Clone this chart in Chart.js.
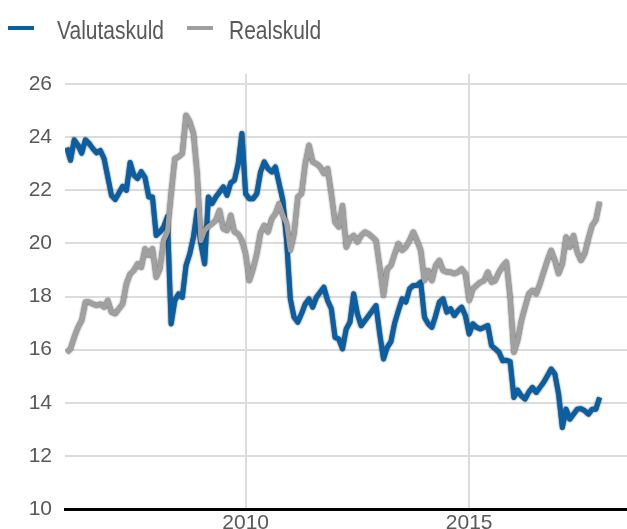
<!DOCTYPE html>
<html>
<head>
<meta charset="utf-8">
<script src="https://cdn.jsdelivr.net/npm/chart.js@4/dist/chart.umd.min.js"></script>
<style>
    html, body { margin: 0; padding: 0; background: #fff; }
    #wrap { position: relative; width: 627px; height: 529px; overflow: hidden; }
    .lg { position: absolute; top: 16px; line-height: 21px; white-space: nowrap;
          font: 21px "Liberation Sans", Arial, sans-serif; color: #595959;
          transform: scaleY(1.2); transform-origin: 0 0; }
    .sw { position: absolute; top: 26px; width: 26px; height: 4px; }
</style>
</head>
<body>
<div id="wrap">
    <canvas id="chart"></canvas>
    <span class="sw" style="left:8px;background:#0a5fa3"></span>
    <span class="lg" style="left:57px">Valutaskuld</span>
    <span class="sw" style="left:187px;background:#a0a0a0"></span>
    <span class="lg" style="left:229px">Realskuld</span>
</div>
<script>
// månadsdata jan 2006 - dec 2017
const startYear = 2006;

const valutaskuld = [
    23.6, 23.13, 23.9, 23.7, 23.4, 23.9, 23.76, 23.57, 23.41, 23.5, 23.2, 22.5,
    21.8, 21.65, 21.9, 22.15, 22.0, 23.05, 22.57, 22.44, 22.7, 22.48, 21.75, 21.75,
    20.3, 20.43, 20.62, 21.0, 16.97, 17.85, 18.1, 17.97, 19.17, 19.6, 20.24, 21.25,
    19.99, 19.23, 21.75, 21.5, 21.75, 21.94, 22.13, 21.81, 22.28, 22.38, 23.0, 24.14,
    21.87, 21.68, 21.68, 21.87, 22.69, 23.07, 22.82, 22.69, 22.88, 22.25, 21.62, 20.11,
    17.91, 17.22, 17.03, 17.35, 17.72, 17.91, 17.6, 17.97, 18.16, 18.35, 17.85, 17.54,
    16.46, 16.4, 16.03, 16.78, 17.03, 18.1, 17.35, 16.9, 17.09, 17.28, 17.47, 17.66,
    16.59, 15.65, 16.09, 16.3, 17.0, 17.47, 17.91, 17.79, 18.29, 18.42, 18.42, 18.54,
    17.22, 16.97, 16.84, 17.28, 17.79, 17.91, 17.41, 17.54, 17.28, 17.47, 17.6, 17.28,
    16.59, 16.97, 16.84, 16.78, 16.84, 16.91, 16.15, 16.03, 15.9, 15.58, 15.6, 15.55,
    14.2, 14.48, 14.26, 14.14, 14.4, 14.58, 14.39, 14.58, 14.77, 15.02, 15.27, 15.08,
    14.33, 13.07, 13.76, 13.38, 13.57, 13.76, 13.78, 13.7, 13.57, 13.76, 13.76, 14.2
];

const realskuld = [
    15.9, 16.03, 16.47, 16.84, 17.1, 17.79, 17.79, 17.72, 17.66, 17.72, 17.6, 17.85,
    17.41, 17.35, 17.54, 17.72, 18.48, 18.85, 18.98, 19.23, 19.1, 19.8, 19.55, 19.8,
    18.73, 19.04, 20.11, 20.43, 21.87, 23.2, 23.26, 23.38, 24.83, 24.58, 24.14, 22.63,
    20.11, 20.49, 20.64, 20.74, 20.87, 21.25, 20.55, 20.49, 21.06, 20.43, 20.36, 20.11,
    19.61, 18.6, 19.04, 19.61, 20.4, 20.68, 20.43, 20.93, 21.12, 21.5, 21.06, 20.74,
    19.74, 20.36, 21.75, 21.87, 23.0, 23.7, 23.07, 23.0, 22.88, 22.63, 22.82, 21.87,
    20.8, 20.62, 21.43, 19.86, 20.18, 20.3, 20.05, 20.3, 20.43, 20.36, 20.24, 20.11,
    19.11, 18.04, 19.04, 19.17, 19.6, 19.99, 19.74, 19.86, 20.11, 20.43, 20.11, 19.74,
    18.6, 18.98, 18.6, 19.17, 19.36, 18.98, 18.92, 18.92, 18.86, 18.92, 19.04, 18.86,
    17.85, 18.29, 18.42, 18.54, 18.6, 18.92, 18.54, 18.6, 18.92, 19.14, 19.3, 17.97,
    15.9, 16.34, 17.09, 17.6, 18.1, 18.23, 18.1, 18.48, 18.92, 19.36, 19.74, 19.36,
    18.86, 19.23, 20.24, 19.86, 20.3, 19.67, 19.36, 19.61, 20.18, 20.68, 20.87, 21.56
];

const xTicks = [2010, 2015];
const yTicks = [10, 12, 14, 16, 18, 20, 22, 24, 26];

const toPoints = arr => arr.map((v, i) => ({ x: startYear + i / 12, y: v }));

// mörk kant runt linjerna
const lineShadow = {
    id: 'lineShadow',
    beforeDatasetDraw(chart) {
        const ctx = chart.ctx;
        ctx.save();
        ctx.shadowColor = 'rgba(0, 0, 0, 0.75)';
        ctx.shadowBlur = 2;
    },
    afterDatasetDraw(chart) {
        chart.ctx.restore();
    }
};

const tickFont = { family: '"Liberation Sans", Arial, sans-serif', size: 21 };

new Chart(document.getElementById('chart'), {
    type: 'line',
    data: {
        datasets: [
            {
                label: 'Valutaskuld',
                data: toPoints(valutaskuld),
                borderColor: '#0a5fa3',
                borderWidth: 5,
                pointRadius: 0,
                tension: 0,
                borderJoinStyle: 'round',
                order: 2
            },
            {
                label: 'Realskuld',
                data: toPoints(realskuld),
                borderColor: '#a0a0a0',
                borderWidth: 5,
                pointRadius: 0,
                tension: 0,
                borderJoinStyle: 'round',
                order: 1
            }
        ]
    },
    options: {
        responsive: true,
        maintainAspectRatio: false,
        animation: false,
        layout: { padding: { top: 74, left: 0, right: 0, bottom: 0 } },
        plugins: {
            legend: { display: false },
            tooltip: { enabled: false }
        },
        scales: {
            x: {
                type: 'linear',
                min: 2005.96,
                max: 2018.53,
                afterBuildTicks: scale => { scale.ticks = xTicks.map(v => ({ value: v })); },
                afterFit: scale => { scale.height = 20; },
                grid: { color: '#dcdcdc', lineWidth: 2, drawTicks: false },
                border: { color: '#000', width: 3 },
                ticks: {
                    font: tickFont,
                    color: '#595959',
                    padding: 2,
                    maxRotation: 0,
                    callback: v => String(v)
                }
            },
            y: {
                min: 10,
                max: 26.38,
                afterBuildTicks: scale => { scale.ticks = yTicks.map(v => ({ value: v })); },
                afterFit: scale => { scale.width = 65; },
                grid: { color: '#dcdcdc', lineWidth: 2, drawTicks: true, tickLength: 13, tickColor: 'rgba(0,0,0,0)' },
                border: { display: false },
                ticks: {
                    font: tickFont,
                    color: '#595959',
                    padding: 0,
                    callback: v => String(v)
                }
            }
        }
    },
    plugins: [lineShadow]
});
</script>
</body>
</html>
